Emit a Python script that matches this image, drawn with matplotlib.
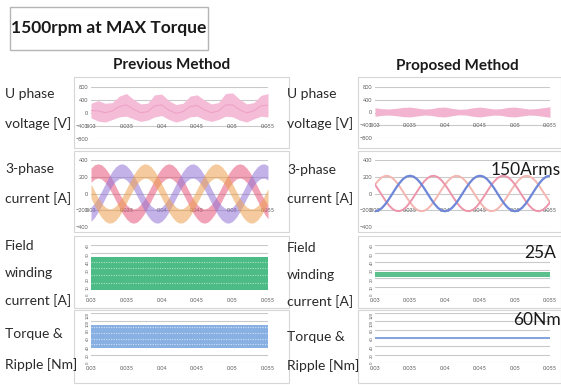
import numpy as np
import matplotlib.pyplot as plt
from matplotlib.patches import Rectangle

plt.rcParams['font.family'] = ['Lato', 'DejaVu Sans']

# time axis (ms) for the phase currents, 0.5 ms steps
t_cur_ms = [30.0, 30.5, 31.0, 31.5, 32.0, 32.5, 33.0, 33.5, 34.0, 34.5,
            35.0, 35.5, 36.0, 36.5, 37.0, 37.5, 38.0, 38.5, 39.0, 39.5,
            40.0, 40.5, 41.0, 41.5, 42.0, 42.5, 43.0, 43.5, 44.0, 44.5,
            45.0, 45.5, 46.0, 46.5, 47.0, 47.5, 48.0, 48.5, 49.0, 49.5,
            50.0, 50.5, 51.0, 51.5, 52.0, 52.5, 53.0, 53.5, 54.0, 54.5, 55.0]
# time axis (ms) for the envelope readings, 1 ms steps
t_env_ms = [30, 31, 32, 33, 34, 35, 36, 37, 38, 39, 40, 41, 42,
            43, 44, 45, 46, 47, 48, 49, 50, 51, 52, 53, 54, 55]

# Previous method: 3-phase currents [A] (centre of the rippled band)
prev_ia = [218, 257, 270, 257, 218, 159, 83, 0, -83, -159, -218, -257, -270, -257, -218, -159, -83, 0,
           83, 159, 218, 257, 270, 257, 218, 159, 83, 0, -83, -159, -218, -257, -270, -257, -218, -159,
           -83, 0, 83, 159, 218, 257, 270, 257, 218, 159, 83, 0, -83, -159, -218]
prev_ib = [-247, -201, -135, -56, 28, 110, 181, 234, 264, 269, 247, 201, 135, 56, -28, -110, -181, -234,
           -264, -269, -247, -201, -135, -56, 28, 110, 181, 234, 264, 269, 247, 201, 135, 56, -28, -110,
           -181, -234, -264, -269, -247, -201, -135, -56, 28, 110, 181, 234, 264, 269, 247]
prev_ic = [28, -56, -135, -201, -247, -269, -264, -234, -181, -110, -28, 56, 135, 201, 247, 269, 264, 234,
           181, 110, 28, -56, -135, -201, -247, -269, -264, -234, -181, -110, -28, 56, 135, 201, 247, 269,
           264, 234, 181, 110, 28, -56, -135, -201, -247, -269, -264, -234, -181, -110, -28]
prev_cur_ripple = 85

# Proposed method: 3-phase currents [A] (150 Arms)
prop_ia = [-212, -202, -172, -125, -66, 0, 66, 125, 172, 202, 212, 202, 172, 125, 66, 0, -66, -125,
           -172, -202, -212, -202, -172, -125, -66, 0, 66, 125, 172, 202, 212, 202, 172, 125, 66, 0,
           -66, -125, -172, -202, -212, -202, -172, -125, -66, 0, 66, 125, 172, 202, 212]
prop_ib = [106, 44, -22, -86, -142, -184, -207, -211, -194, -158, -106, -44, 22, 86, 142, 184, 207, 211,
           194, 158, 106, 44, -22, -86, -142, -184, -207, -211, -194, -158, -106, -44, 22, 86, 142, 184,
           207, 211, 194, 158, 106, 44, -22, -86, -142, -184, -207, -211, -194, -158, -106]
prop_ic = [106, 158, 194, 211, 207, 184, 142, 86, 22, -44, -106, -158, -194, -211, -207, -184, -142, -86,
           -22, 44, 106, 158, 194, 211, 207, 184, 142, 86, 22, -44, -106, -158, -194, -211, -207, -184,
           -142, -86, -22, 44, 106, 158, 194, 211, 207, 184, 142, 86, 22, -44, -106]

# U phase voltage envelopes [V]
prev_v_hi = [300, 380, 300, 320, 520, 600, 420, 280, 300, 560, 580, 380, 260,
             300, 520, 560, 400, 280, 320, 600, 620, 420, 280, 320, 540, 600]
prev_v_lo = [-150, -250, -280, -200, -120, -100, -180, -260, -220, -120, -80, -200, -280,
             -220, -120, -100, -200, -260, -200, -100, -120, -220, -280, -180, -100, -120]
prop_v_hi = [150, 120, 110, 130, 160, 170, 140, 110, 120, 160, 170, 130, 100,
             110, 150, 170, 140, 110, 120, 160, 170, 140, 110, 120, 150, 180]
prop_v_lo = [-120, -90, -80, -100, -130, -140, -110, -80, -90, -130, -140, -100, -70,
             -80, -120, -140, -110, -80, -90, -130, -140, -110, -80, -90, -120, -150]

# field winding current band [A]
prev_field = (6, 46)
prev_field_streaks = [40, 32, 24, 15]
prop_field = (22, 28)

# torque band [Nm]
prev_torque = (36, 92)
prev_torque_streaks = [86, 72, 58, 45]
prop_torque = (57, 62)

xticks = [0.03, 0.035, 0.04, 0.045, 0.05, 0.055]
xtick_labels = ['0.03', '0.035', '0.04', '0.045', '0.05', '0.055']
volt_ticks = [-800, -400, 0, 400, 800]
cur_ticks = [-400, -200, 0, 200, 400]
field_ticks = [0, 10, 20, 30, 40, 50, 60]
torque_ticks = [0, 20, 40, 60, 80, 100, 120]

t_cur = np.array(t_cur_ms) / 1000
t_env = np.array(t_env_ms) / 1000

W, H = 561, 385
fig = plt.figure(figsize=(W / 100, H / 100), dpi=100)


def add_ax(x0, y0, x1, y1):
    return fig.add_axes([x0 / W, 1 - y1 / H, (x1 - x0) / W, (y1 - y0) / H])


def frame(x0, y0, x1, y1, ec='#d6d6d6', lw=0.8):
    fig.patches.append(Rectangle((x0 / W, 1 - y1 / H), (x1 - x0) / W, (y1 - y0) / H,
                                 transform=fig.transFigure, fill=False, ec=ec, lw=lw))


def setup(ax, yticks, label_level=None, rotate_y=False):
    ax.set_xlim(xticks[0], xticks[-1])
    ax.set_ylim(yticks[0], yticks[-1])
    ax.set_yticks(yticks)
    ax.set_xticks(xticks)
    for s in ax.spines.values():
        s.set_visible(False)
    ax.grid(axis='y', color='#c9c9c9', lw=0.8)
    ax.grid(axis='x', visible=False)
    ax.set_axisbelow(True)
    ax.patch.set_alpha(0)
    ax.tick_params(length=0, labelsize=4, labelcolor='#5a5a5a', pad=2)
    if label_level is not None:
        ax.set_xticklabels([])
        for xt, lab in zip(xticks, xtick_labels):
            ax.text(xt, label_level, lab, ha='center', va='center', fontsize=4,
                    color='#5a5a5a', zorder=1)
    else:
        ax.set_xticklabels(xtick_labels)
    if rotate_y:
        ax.tick_params(axis='y', labelrotation=90, labelsize=3, pad=1)


# chart frames
for x0, x1 in [(74, 289), (358, 561)]:
    frame(x0, 77, x1, 148)
    frame(x0, 151, x1, 232)
    frame(x0, 236, x1, 308)
    frame(x0, 310, x1, 383)

cols = {'prev': (91, 268), 'prop': (375, 550)}

# --- Previous method ---
x0, x1 = cols['prev']
ax = add_ax(x0, 87, x1, 139)
setup(ax, volt_ticks, label_level=-400)
ax.fill_between(t_env, prev_v_lo, prev_v_hi, color='#f5bcd8', lw=0, zorder=2)
ax.plot(t_env, (np.array(prev_v_hi) + np.array(prev_v_lo)) / 2, color='#eea2c8', lw=0.8, zorder=3)

ax = add_ax(x0, 160, x1, 227)
setup(ax, cur_ticks, label_level=-200)
for y, c in [(prev_ia, '#e6577a'), (prev_ib, '#9274d6'), (prev_ic, '#eda04e')]:
    y = np.array(y)
    ax.fill_between(t_cur, y - prev_cur_ripple, y + prev_cur_ripple, color=c, alpha=0.55, lw=0, zorder=2)

ax = add_ax(x0, 245, x1, 295)
setup(ax, field_ticks, rotate_y=True)
ax.fill_between(t_env, prev_field[0], prev_field[1], color='#4dbb86', lw=0, zorder=2)
for lvl in prev_field_streaks:
    ax.plot(t_env, [lvl] * len(t_env), color='#a9e3c3', lw=0.8, ls=(0, (1, 1.2)), zorder=3)

ax = add_ax(x0, 313, x1, 363)
setup(ax, torque_ticks, rotate_y=True)
ax.fill_between(t_env, prev_torque[0], prev_torque[1], color='#88b0e2', lw=0, zorder=2)
for lvl in prev_torque_streaks:
    ax.plot(t_env, [lvl] * len(t_env), color='#cfe0f5', lw=0.8, ls=(0, (1, 1.2)), zorder=3)

# --- Proposed method ---
x0, x1 = cols['prop']
ax = add_ax(x0, 87, x1, 138)
setup(ax, volt_ticks, label_level=-400)
ax.fill_between(t_env, prop_v_lo, prop_v_hi, color='#f2b4d0', lw=0, zorder=2)

ax = add_ax(x0, 160, x1, 227)
setup(ax, cur_ticks, label_level=-200)
ax.plot(t_cur, prop_ic, color='#f3b6b0', lw=1.4, zorder=2)
ax.plot(t_cur, prop_ib, color='#ec95aa', lw=1.4, zorder=2)
ax.plot(t_cur, prop_ia, color='#6d86d8', lw=1.6, zorder=3)

ax = add_ax(x0, 245, x1, 295)
setup(ax, field_ticks, rotate_y=True)
ax.fill_between(t_env, prop_field[0], prop_field[1], color='#5cc08c', lw=0, zorder=2)

ax = add_ax(x0, 313, x1, 363)
setup(ax, torque_ticks, rotate_y=True)
ax.fill_between(t_env, prop_torque[0], prop_torque[1], color='#86a5dc', lw=0, zorder=2)

# --- texts ---
frame(10, 7, 208, 50, ec='#b5b5b5', lw=1.0)
fig.text(109 / W, 1 - 28 / H, '1500rpm at MAX Torque', ha='center', va='center',
         fontsize=12.5, fontweight='bold', color='#1a1a1a')
fig.text(172 / W, 1 - 65 / H, 'Previous Method', ha='center', va='center',
         fontsize=11, fontweight='bold', color='#1a1a1a')
fig.text(457 / W, 1 - 66 / H, 'Proposed Method', ha='center', va='center',
         fontsize=11, fontweight='bold', color='#1a1a1a')

row_labels = [['U phase', 'voltage [V]'], ['3-phase', 'current [A]'],
              ['Field', 'winding', 'current [A]'], ['Torque &', 'Ripple [Nm]']]
left_y = [[94, 124], [169, 199], [246, 273, 301], [334, 365]]
right_y = [[94, 124], [170, 199], [248, 275, 302], [337, 366]]
for lines, ly, ry in zip(row_labels, left_y, right_y):
    for s, a, b in zip(lines, ly, ry):
        fig.text(5 / W, 1 - a / H, s, ha='left', va='center', fontsize=10, color='#2a2a2a')
        fig.text(287 / W, 1 - b / H, s, ha='left', va='center', fontsize=10, color='#2a2a2a')

fig.text(561 / W, 1 - 170 / H, '150Arms', ha='right', va='center', fontsize=12.5, color='#1a1a1a')
fig.text(556 / W, 1 - 253 / H, '25A', ha='right', va='center', fontsize=12.5, color='#1a1a1a')
fig.text(561 / W, 1 - 320 / H, '60Nm', ha='right', va='center', fontsize=12.5, color='#1a1a1a')

fig.savefig('out.png', dpi=100)
